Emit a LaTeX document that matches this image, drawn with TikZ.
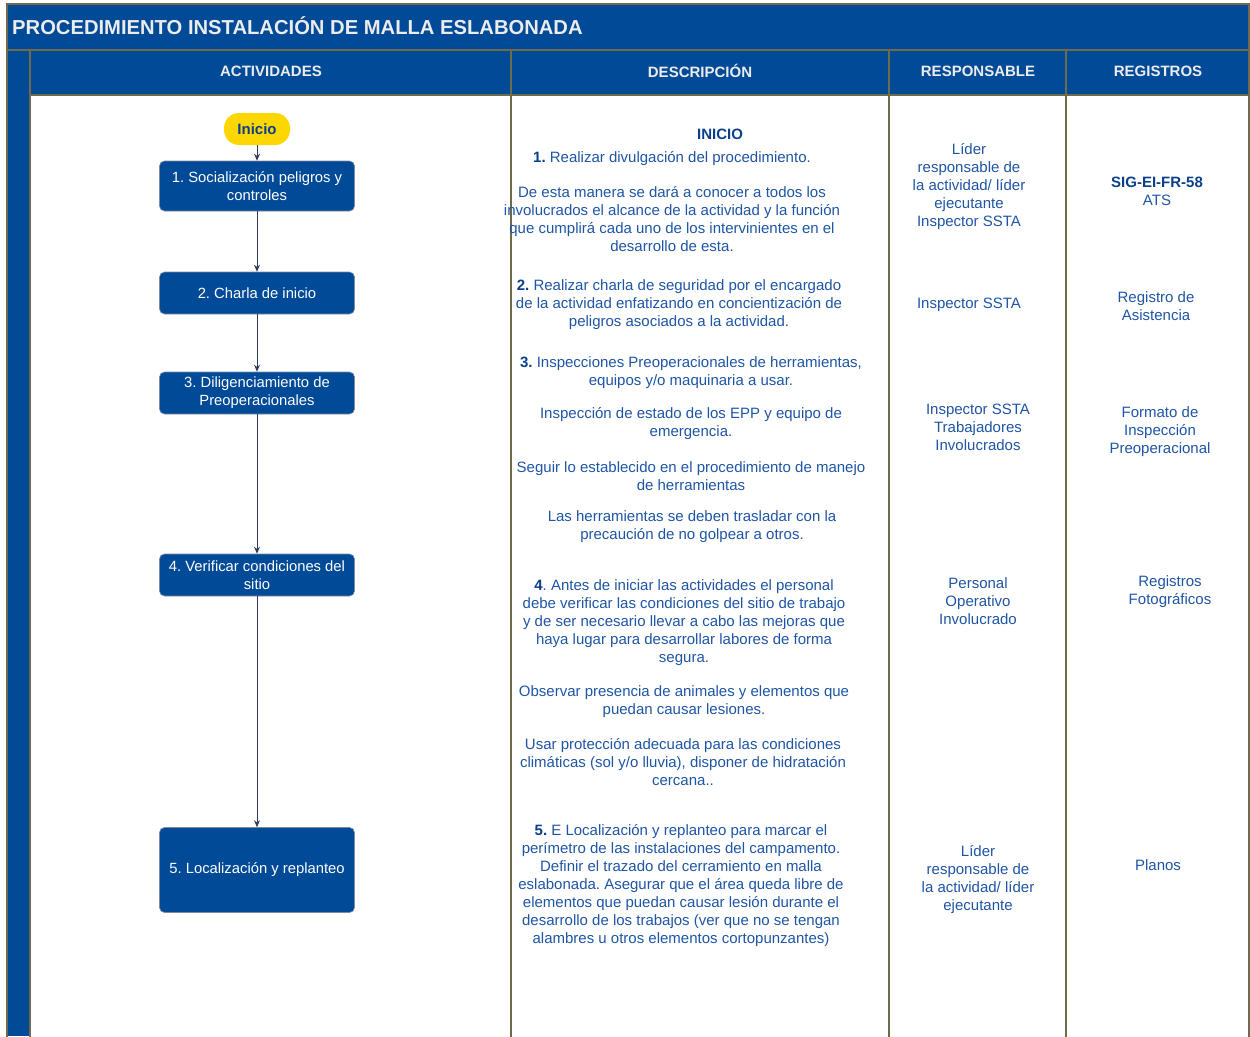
\documentclass[tikz,border=0pt]{standalone}
\usepackage{fontspec}
\setmainfont{Liberation Sans}
\frenchspacing
\usetikzlibrary{arrows.meta}
\definecolor{hdrblue}{HTML}{004A98}
\definecolor{gridline}{HTML}{6E6A4C}
\definecolor{txtblue}{HTML}{1E55A5}
\definecolor{darkblue}{HTML}{0A3F8C}
\definecolor{pillyellow}{HTML}{FFD700}
\definecolor{arrowcol}{HTML}{2E3D5E}
\definecolor{hdrtext}{HTML}{ECECEC}
\tikzset{
  actbox/.style={rounded corners=5pt, fill=hdrblue, draw=arrowcol!60, line width=0.6pt, text=white,
    minimum width=195pt, align=center, inner sep=2pt, font=\fontsize{14.8}{18}\selectfont\frenchspacing},
  pill/.style={rounded corners=15pt, fill=pillyellow, draw=none, text=darkblue, minimum width=66pt,
    minimum height=32pt, font=\fontsize{15}{18}\selectfont\bfseries},
  txt/.style={align=center, text=txtblue, inner sep=0pt, font=\fontsize{15}{18}\selectfont\frenchspacing},
  hdr/.style={text=hdrtext, inner sep=0pt, font=\fontsize{15}{18}\selectfont\bfseries},
  flow/.style={draw=arrowcol, line width=0.9pt, -{Stealth[length=7pt,width=6pt]}},
  grid/.style={draw=gridline, line width=1.2pt}
}
\newcommand{\bnum}[1]{\textcolor{darkblue}{\textbf{#1}}}
\begin{document}
\begin{tikzpicture}[x=1pt,y=-1pt]
\useasboundingbox (0,0) rectangle (1250,1036);
% backgrounds
\fill[hdrblue] (7,4) rectangle (1250,50);
\fill[hdrblue] (7,50) rectangle (1250,95);
\fill[hdrblue] (7,95) rectangle (30,1036);
% grid
\draw[grid] (1249,1040) -- (1249,4) -- (7,4) -- (7,1040);
\draw[grid] (7,50) -- (1249,50);
\draw[grid] (30,95) -- (1249,95);
\foreach \xx in {30,511,889,1066} \draw[grid] (\xx,50) -- (\xx,1040);
% title and headers
\node[anchor=west, text=hdrtext, inner sep=0pt, font=\fontsize{20.2}{24}\selectfont\bfseries] (title) at (12,26) {PROCEDIMIENTO INSTALACIÓN DE MALLA ESLABONADA};
\node[hdr] (hA) at (271,71) {ACTIVIDADES};
\node[hdr] (hD) at (700,71) {DESCRIPCIÓN};
\node[hdr] (hR) at (978,71) {RESPONSABLE};
\node[hdr] (hG) at (1158,71) {REGISTROS};
% flow
\node[pill] (ini) at (257,129) {Inicio};
\node[actbox, minimum height=50pt] (a1) at (257,186) {1. Socialización peligros y\\controles};
\node[actbox, minimum height=42pt] (a2) at (257,293) {2. Charla de inicio};
\node[actbox, minimum height=42pt] (a3) at (257,393) {3. Diligenciamiento de\\Preoperacionales};
\node[actbox, minimum height=42pt] (a4) at (257,575) {4. Verificar condiciones del\\sitio};
\node[actbox, minimum height=85pt] (a5) at (257,870) {5. Localización y replanteo};
\draw[flow] (ini) -- (a1);
\draw[flow] (a1) -- (a2);
\draw[flow] (a2) -- (a3);
\draw[flow] (a3) -- (a4);
\draw[flow] (a4) -- (a5);
% description
\node[txt, text=darkblue, font=\fontsize{15}{18}\selectfont\bfseries] (dini) at (720,134) {INICIO};
\node[txt] (d1a) at (672,159) {\bnum{1.} Realizar divulgación del procedimiento.};
\node[txt] (d1b) at (672,219) {De esta manera se dará a conocer a todos los\\involucrados el alcance de la actividad y la función\\que cumplirá cada uno de los intervinientes en el\\desarrollo de esta.};
\node[txt] (d2) at (679,305) {\bnum{2.} Realizar charla de seguridad por el encargado\\de la actividad enfatizando en concientización de\\peligros asociados a la actividad.};
\node[txt] (d3a) at (691,373) {\bnum{3.} Inspecciones Preoperacionales de herramientas,\\equipos y/o maquinaria a usar.};
\node[txt] (d3b) at (691,424) {Inspección de estado de los EPP y equipo de\\emergencia.};
\node[txt] (d3c) at (691,476) {Seguir lo establecido en el procedimiento de manejo\\de herramientas};
\node[txt] (d3d) at (692,527) {Las herramientas se deben trasladar con la\\precaución de no golpear a otros.};
\node[txt] (d4a) at (684,623) {\bnum{4}. Antes de iniciar las actividades el personal\\debe verificar las condiciones del sitio de trabajo\\y de ser necesario llevar a cabo las mejoras que\\haya lugar para desarrollar labores de forma\\segura.};
\node[txt] (d4b) at (684,702) {Observar presencia de animales y elementos que\\puedan causar lesiones.};
\node[txt] (d4c) at (683,762) {Usar protección adecuada para las condiciones\\climáticas (sol y/o lluvia), disponer de hidratación\\cercana..};
\node[txt] (d5) at (681,886) {\bnum{5.} E Localización y replanteo para marcar el\\perímetro de las instalaciones del campamento.\\Definir el trazado del cerramiento en malla\\eslabonada. Asegurar que el área queda libre de\\elementos que puedan causar lesión durante el\\desarrollo de los trabajos (ver que no se tengan\\alambres u otros elementos cortopunzantes)};
% responsable
\node[txt] (r1) at (969,187) {Líder\\responsable de\\la actividad/ líder\\ejecutante\\Inspector SSTA};
\node[txt] (r2) at (969,305) {Inspector SSTA};
\node[txt] (r3) at (978,427) {Inspector SSTA\\Trabajadores\\Involucrados};
\node[txt] (r4) at (978,601) {Personal\\Operativo\\Involucrado};
\node[txt] (r5) at (978,880) {Líder\\responsable de\\la actividad/ líder\\ejecutante};
% registros
\node[txt] (g1) at (1157,191) {\bnum{SIG-EI-FR-58}\\ATS};
\node[txt] (g2) at (1156,306) {Registro de\\Asistencia};
\node[txt] (g3) at (1160,432) {Formato de\\Inspección\\Preoperacional};
\node[txt] (g4) at (1170,592) {Registros\\Fotográficos};
\node[txt] (g5) at (1158,865) {Planos};
\end{tikzpicture}
\end{document}
